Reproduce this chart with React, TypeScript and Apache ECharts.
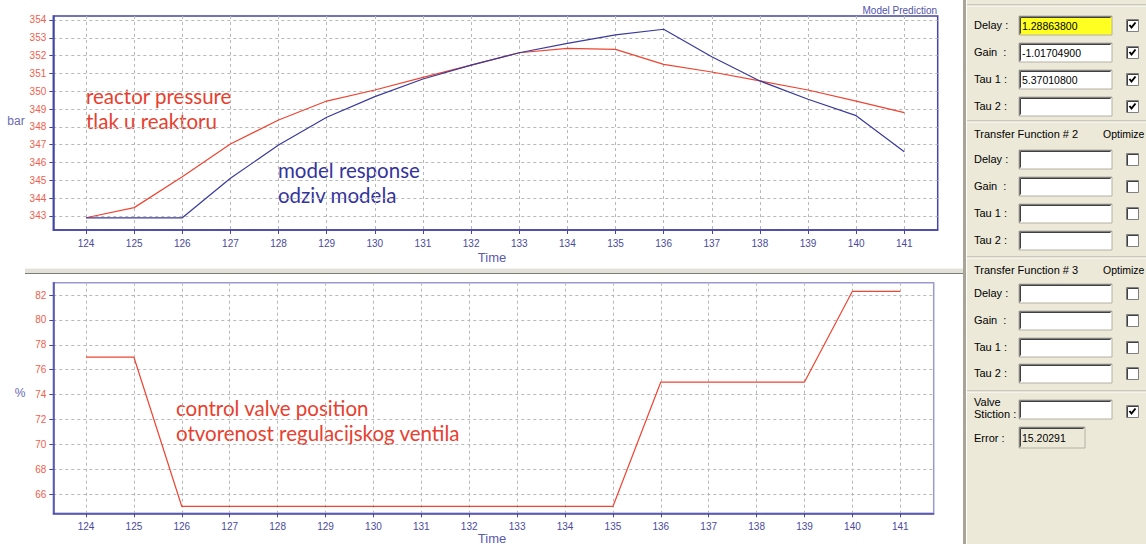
import React, { useEffect, useRef } from "react";
import * as echarts from "echarts";

// ---- data ----
const timeTicks = [124, 125, 126, 127, 128, 129, 130, 131, 132, 133, 134, 135, 136, 137, 138, 139, 140, 141];
const reactorPressure = [342.9, 343.47, 345.2, 347.04, 348.39, 349.45, 350.07, 350.78, 351.47, 352.16, 352.41, 352.35, 351.51, 351.08, 350.58, 350.07, 349.45, 348.8];
const modelResponse = [342.9, 342.9, 342.9, 345.12, 346.98, 348.54, 349.7, 350.69, 351.47, 352.16, 352.69, 353.16, 353.48, 351.94, 350.58, 349.55, 348.63, 346.61];
const valvePosition = [77, 77, 65, 65, 65, 65, 65, 65, 65, 65, 65, 65, 75, 75, 75, 75, 82.3, 82.3];
const pressureTicks = [343, 344, 345, 346, 347, 348, 349, 350, 351, 352, 353, 354];
const valveTicks = [66, 68, 70, 72, 74, 76, 78, 80, 82];

const tf1Labels = ["Delay :", "Gain  :", "Tau 1 :", "Tau 2 :"];
const tf1Values = ["1.28863800", "-1.01704900", "5.37010800", ""];
const tf1Checked = [true, true, true, true];
const tf2Values = ["", "", "", ""];
const tf3Values = ["", "", "", ""];
const errorValue = "15.20291";

const AXIS_DARK = "#4646a6";
const LABEL_RED = "#f0604c";
const LABEL_BLUE = "#4a4a9e";
const GRID_GRAY = "#b8b8b8";
const RED = "#f04432";
const BLUE = "#3a3a9c";
const PANEL_BG = "#ece9d8";
const UI_FONT = "Liberation Sans";
const ANN_FONT = "Lato";

function pairs(vals: number[]) {
  return timeTicks.map((t, i) => [t, vals[i]]);
}

function inputBox(x: number, y: number, w: number, h: number, text: string, fill: string) {
  const els: any[] = [
    { type: "rect", shape: { x, y, width: w, height: h }, style: { fill, stroke: "#b4b0a4", lineWidth: 1 } },
    { type: "polyline", shape: { points: [[x + 0.5, y + h - 0.5], [x + 0.5, y + 0.5], [x + w - 0.5, y + 0.5]] }, style: { stroke: "#808080", lineWidth: 1, fill: null } },
    { type: "polyline", shape: { points: [[x + 1.5, y + h - 1.5], [x + 1.5, y + 1.5], [x + w - 1.5, y + 1.5]] }, style: { stroke: "#404040", lineWidth: 1, fill: null } },
  ];
  if (text) {
    els.push({ type: "text", style: { text, x: x + 3, y: y + h / 2 + 0.5, fill: "#000", font: `10.5px "${UI_FONT}"`, textVerticalAlign: "middle" } });
  }
  return els;
}

function checkBox(x: number, yc: number, checked: boolean) {
  const y = yc - 6;
  const els: any[] = [
    { type: "rect", shape: { x: x + 0.5, y: y + 0.5, width: 12, height: 12 }, style: { fill: "#ffffff", stroke: "#808080", lineWidth: 1 } },
    { type: "polyline", shape: { points: [[x + 1.5, y + 12], [x + 1.5, y + 1.5], [x + 12, y + 1.5]] }, style: { stroke: "#404040", lineWidth: 1, fill: null } },
  ];
  if (checked) {
    els.push({ type: "polyline", shape: { points: [[x + 3.5, y + 6], [x + 5.5, y + 8.5], [x + 9.5, y + 3.5]] }, style: { stroke: "#000", lineWidth: 2, fill: null } });
  }
  return els;
}

function label(text: string, x: number, y: number, extra: any = {}) {
  return { type: "text", style: { text, x, y, fill: "#000", font: `11px "${UI_FONT}"`, textVerticalAlign: "middle", ...extra } };
}

function annot(text: string, x: number, yc: number, fill: string) {
  return { type: "text", style: { text, x, y: yc, fill, font: `20.5px "${ANN_FONT}"`, textVerticalAlign: "middle" } };
}

function sepLine(y: number) {
  return [
    { type: "line", shape: { x1: 967, y1: y, x2: 1146, y2: y }, style: { stroke: "#aca899", lineWidth: 1 } },
    { type: "line", shape: { x1: 967, y1: y + 1, x2: 1146, y2: y + 1 }, style: { stroke: "#ffffff", lineWidth: 1 } },
  ];
}

function buildPanel() {
  const els: any[] = [];
  els.push({ type: "rect", shape: { x: 963, y: 0, width: 183, height: 544 }, style: { fill: PANEL_BG } });
  els.push({ type: "rect", shape: { x: 963, y: 0, width: 3, height: 544 }, style: { fill: "#a8a498" } });
  els.push({ type: "line", shape: { x1: 966.5, y1: 0, x2: 966.5, y2: 544 }, style: { stroke: "#ffffff", lineWidth: 1 } });
  els.push(...sepLine(5));
  const rows1 = [25, 52, 79, 106];
  rows1.forEach((yc, i) => {
    els.push(label(tf1Labels[i], 974, yc));
    els.push(...inputBox(1019, yc - 9, 93, 19, tf1Values[i], i === 0 ? "#ffff22" : "#ffffff"));
    els.push(...checkBox(1126, yc, tf1Checked[i]));
  });
  els.push(...sepLine(121));
  els.push(label("Transfer Function # 2", 974, 134));
  els.push(label("Optimize", 1103, 134, { font: `10.5px "${UI_FONT}"` }));
  [159, 186, 213, 240].forEach((yc, i) => {
    els.push(label(tf1Labels[i], 974, yc));
    els.push(...inputBox(1019, yc - 9, 93, 19, tf2Values[i], "#ffffff"));
    els.push(...checkBox(1126, yc, false));
  });
  els.push(...sepLine(257));
  els.push(label("Transfer Function # 3", 974, 270));
  els.push(label("Optimize", 1103, 270, { font: `10.5px "${UI_FONT}"` }));
  [293, 320, 347, 373].forEach((yc, i) => {
    els.push(label(tf1Labels[i], 974, yc));
    els.push(...inputBox(1019, yc - 9, 93, 19, tf3Values[i], "#ffffff"));
    els.push(...checkBox(1126, yc, false));
  });
  els.push(...sepLine(391));
  els.push(label("Valve", 974, 402));
  els.push(label("Stiction :", 974, 414));
  els.push(...inputBox(1019, 400, 93, 19, "", "#ffffff"));
  els.push(...checkBox(1126, 411, true));
  els.push(label("Error :", 974, 438));
  els.push(...inputBox(1019, 427, 66, 21, errorValue, PANEL_BG));
  return els;
}

function buildGraphic() {
  const g: any[] = [];
  // separator between charts
  g.push({ type: "rect", shape: { x: 25, y: 268, width: 938, height: 5 }, style: { fill: "#e2e2da" } });
  g.push({ type: "line", shape: { x1: 25, y1: 273.5, x2: 963, y2: 273.5 }, style: { stroke: "#7c7c74", lineWidth: 1.2 } });
  g.push({ type: "line", shape: { x1: 25, y1: 268.5, x2: 963, y2: 268.5 }, style: { stroke: "#f4f4ee", lineWidth: 1 } });
  // titles / labels
  g.push({ type: "text", style: { text: "Model Prediction", x: 937, y: 10, fill: "#5252aa", font: `10px "${UI_FONT}"`, textAlign: "right", textVerticalAlign: "middle" } });
  g.push({ type: "text", style: { text: "bar", x: 16, y: 121, fill: "#6a6ab4", font: `12px "${UI_FONT}"`, textAlign: "center", textVerticalAlign: "middle" } });
  g.push({ type: "text", style: { text: "%", x: 20, y: 393, fill: "#6a6ab4", font: `12px "${UI_FONT}"`, textAlign: "center", textVerticalAlign: "middle" } });
  g.push({ type: "text", style: { text: "Time", x: 492, y: 257, fill: "#5a5aae", font: `13px "${UI_FONT}"`, textAlign: "center", textVerticalAlign: "middle" } });
  g.push({ type: "text", style: { text: "Time", x: 492, y: 538, fill: "#5a5aae", font: `13px "${UI_FONT}"`, textAlign: "center", textVerticalAlign: "middle" } });
  // annotations
  g.push(annot("reactor pressure", 86, 96, "#e8402e"));
  g.push(annot("tlak u reaktoru", 86, 121, "#e8402e"));
  g.push(annot("model response", 278, 169.5, "#34349c"));
  g.push(annot("odziv modela", 278, 194.5, "#34349c"));
  g.push(annot("control valve position", 176, 407.5, "#e8402e"));
  g.push(annot("otvorenost regulacijskog ventila", 176, 432.5, "#e8402e"));
  g.push(...buildPanel());
  return g;
}

const splitLineStyle = { show: true, lineStyle: { color: GRID_GRAY, type: [3, 3] as any, width: 1 } };

function xAxis(gridIndex: number, min: number, max: number) {
  return {
    type: "value",
    gridIndex,
    min,
    max,
    axisLine: { show: true, lineStyle: { color: AXIS_DARK, width: 1.5 } },
    axisTick: { show: true, length: 4, lineStyle: { color: AXIS_DARK }, customValues: timeTicks },
    axisLabel: { customValues: timeTicks, color: LABEL_BLUE, fontFamily: UI_FONT, fontSize: 10, margin: 8 },
    splitLine: splitLineStyle,
  };
}

function yAxis(gridIndex: number, min: number, max: number, ticks: number[]) {
  return {
    type: "value",
    gridIndex,
    min,
    max,
    axisLine: { show: true, lineStyle: { color: AXIS_DARK, width: 1.5 } },
    axisTick: { show: true, length: 4, lineStyle: { color: AXIS_DARK }, customValues: ticks },
    axisLabel: { customValues: ticks, color: LABEL_RED, fontFamily: UI_FONT, fontSize: 10, margin: 7 },
    splitLine: splitLineStyle,
  };
}

export default function App() {
  const ref = useRef<HTMLDivElement>(null);
  useEffect(() => {
    if (!ref.current) return;
    const chart = echarts.init(ref.current, null, { renderer: "svg" });
    chart.setOption({
      animation: false,
      backgroundColor: "#ffffff",
      grid: [
        { left: 53.3, top: 16, right: 208.3, bottom: 314, show: true, borderColor: AXIS_DARK, borderWidth: 1.5, backgroundColor: "transparent" },
        { left: 53.3, top: 282.7, right: 212.3, bottom: 30.7, show: true, borderColor: "#9a9ad2", borderWidth: 1.5, backgroundColor: "transparent" },
      ],
      xAxis: [xAxis(0, 123.32, 141.694), xAxis(1, 123.317, 141.697)],
      yAxis: [yAxis(0, 342.214, 354.224, pressureTicks), yAxis(1, 64.45, 82.99, valveTicks)],
      series: [
        { type: "line", name: "reactor pressure", xAxisIndex: 0, yAxisIndex: 0, data: pairs(reactorPressure), showSymbol: false, lineStyle: { color: RED, width: 1.2 }, z: 3 },
        { type: "line", name: "model response", xAxisIndex: 0, yAxisIndex: 0, data: pairs(modelResponse), showSymbol: false, lineStyle: { color: BLUE, width: 1.2 }, z: 3 },
        { type: "line", name: "control valve position", xAxisIndex: 1, yAxisIndex: 1, data: pairs(valvePosition), showSymbol: false, lineStyle: { color: RED, width: 1.2 }, z: 3 },
      ],
      graphic: buildGraphic(),
    });
    return () => chart.dispose();
  }, []);
  return <div ref={ref} style={{ position: "fixed", left: 0, top: 0, width: 1146, height: 544, background: "#fff" }} />;
}
